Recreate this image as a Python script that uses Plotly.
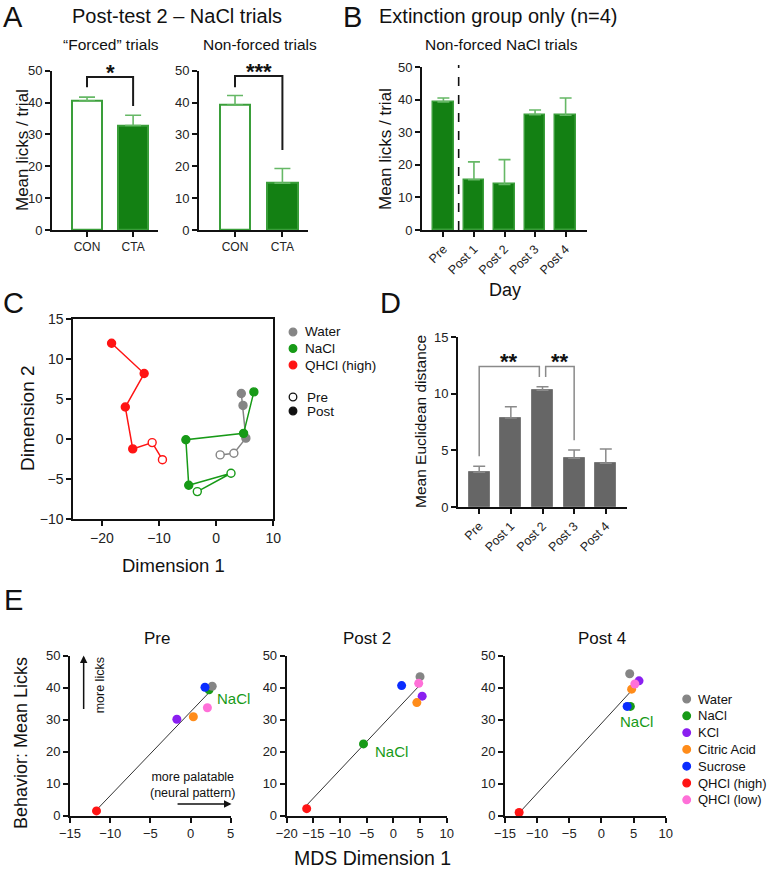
import numpy as np
import plotly.graph_objects as go

W, H = 767, 879
FONT = "Liberation Sans, Arial, sans-serif"


def px(x):
    return x / W


def py(y):
    return 1 - y / H


# ---------------- data ----------------
a_groups = ["CON", "CTA"]
a_forced_mean = [40.5, 32.8]
a_forced_sem = [1.2, 3.2]
a_nonforced_mean = [39.2, 14.7]
a_nonforced_sem = [3.0, 4.6]
a_forced_sig = ["*", 48.0, 44.8, 38.9]        # label, bracket top, left leg end, right leg end
a_nonforced_sig = ["***", 48.3, 44.8, 25.1]

b_days = ["Pre", "Post 1", "Post 2", "Post 3", "Post 4"]
b_mean = [39.3, 15.4, 14.0, 35.4, 35.2]
b_sem = [1.2, 5.5, 7.6, 1.4, 5.3]

c_water_x = [0.7, 3.1, 5.2, 4.7, 4.4]
c_water_y = [-2.0, -1.8, 0.1, 4.2, 5.7]
c_water_pre = [True, True, False, False, False]
c_nacl_x = [-3.3, 2.6, -4.8, -5.3, 4.8, 6.6]
c_nacl_y = [-6.6, -4.3, -5.8, -0.1, 0.7, 5.9]
c_nacl_pre = [True, True, False, False, False, False]
c_qhcl_x = [-9.4, -11.2, -14.6, -15.9, -12.6, -18.3]
c_qhcl_y = [-2.6, -0.46, -1.25, 4.0, 8.2, 12.0]
c_qhcl_pre = [True, True, False, False, False, False]

d_days = ["Pre", "Post 1", "Post 2", "Post 3", "Post 4"]
d_mean = [3.06, 7.85, 10.3, 4.3, 3.85]
d_sem = [0.53, 1.0, 0.3, 0.73, 1.27]
d_sig = [  # label, x0, x1, top, left leg end, right leg end
    ["**", 0.0, 1.9, 12.4, 4.47, 11.47],
    ["**", 2.1, 3.0, 12.4, 11.47, 5.88],
]

e_tastes = ["Water", "NaCl", "KCl", "Citric Acid", "Sucrose", "QHCl (high)", "QHCl (low)"]
e_pre_x = [2.7, 2.3, -1.7, 0.35, 1.8, -11.7, 2.1]
e_pre_y = [40.4, 39.3, 30.1, 30.9, 40.1, 1.5, 33.7]
e_post2_x = [5.0, -5.6, 5.4, 4.4, 1.55, -16.25, 4.75]
e_post2_y = [43.4, 22.4, 37.3, 35.3, 40.6, 2.2, 41.3]
e_post4_x = [4.4, 4.5, 5.85, 4.7, 4.0, -12.8, 5.2]
e_post4_y = [44.3, 34.1, 42.1, 39.5, 34.1, 1.0, 41.1]

# ---------------- styles ----------------
GREEN_BAR = "#138013"
GREEN_EDGE = "#3a9e3a"
GREEN_ERR = "#66b866"
GRAY = "#858585"
GREEN = "#179a17"
RED = "#ff1414"
e_colors = [GRAY, GREEN, "#8a1ff0", "#ff8c1a", "#0a2cff", RED, "#ff70d8"]
draw_order = [1, 0, 2, 3, 4, 5, 6]

fig = go.Figure()
annotations = []
shapes = []


def axis_style(**kw):
    d = dict(showline=True, linecolor="#111", linewidth=2, ticks="outside", ticklen=5,
             tickwidth=2, tickcolor="#111", showgrid=False, zeroline=False,
             tickfont=dict(size=13, color="#222", family=FONT), fixedrange=True)
    d.update(kw)
    return d


def ann(text, x, y, size, color="#111", **kw):
    d = dict(text=text, x=px(x), y=py(y), xref="paper", yref="paper", showarrow=False,
             font=dict(size=size, color=color, family=FONT), xanchor="center", yanchor="middle")
    d.update(kw)
    return d


layout_axes = {}

# ---------- Panel A ----------
A_YMAX = 50
for k, (means, sems, sig, dom) in enumerate([
    (a_forced_mean, a_forced_sem, a_forced_sig, (52, 158, 70.7, 230)),
    (a_nonforced_mean, a_nonforced_sem, a_nonforced_sig, (199, 308, 70.7, 230)),
]):
    n = k + 1
    xa, ya = ("x", "y") if n == 1 else (f"x{n}", f"y{n}")
    xs = list(range(len(a_groups)))
    fig.add_trace(go.Bar(
        x=xs, y=means, width=0.65, xaxis=xa, yaxis=ya,
        marker=dict(color=["white", GREEN_BAR], line=dict(color=GREEN_EDGE, width=2)),
        error_y=dict(type="data", array=sems, arrayminus=[0] * len(sems), symmetric=False,
                     color=GREEN_ERR, thickness=1.6, width=8),
        showlegend=False))
    fig.add_trace(go.Scatter(
        x=[0, 0, 1, 1], y=[sig[2], sig[1], sig[1], sig[3]], mode="lines", xaxis=xa, yaxis=ya,
        line=dict(color="#1a1a1a", width=2), showlegend=False))
    annotations.append(dict(x=0.5, y=(sig[1] + 3.3) / A_YMAX, xref=xa, yref=f"{ya} domain",
                            text=f"<b>{sig[0]}</b>", showarrow=False, yshift=-6,
                            xanchor="center", yanchor="middle",
                            font=dict(size=22, color="#111", family=FONT)))
    x0, x1, y0, y1 = dom
    key = "" if n == 1 else str(n)
    layout_axes["xaxis" + key] = axis_style(domain=[px(x0), px(x1)], anchor=ya,
                                            range=[-0.76, 1.54], tickvals=xs, ticktext=a_groups,
                                            tickfont=dict(size=12, color="#222", family=FONT))
    layout_axes["yaxis" + key] = axis_style(domain=[py(y1), py(y0)], anchor=xa, range=[0, A_YMAX],
                                            tickvals=[0, 10, 20, 30, 40, 50])

# ---------- Panel B ----------
bx = list(range(len(b_days)))
fig.add_trace(go.Bar(
    x=bx, y=b_mean, width=0.67, xaxis="x3", yaxis="y3",
    marker=dict(color=GREEN_BAR, line=dict(color=GREEN_EDGE, width=1.5)),
    error_y=dict(type="data", array=b_sem, arrayminus=[0] * len(b_sem), symmetric=False,
                 color=GREEN_ERR, thickness=1.6, width=6),
    showlegend=False))
layout_axes["xaxis3"] = axis_style(domain=[px(422), px(587)], anchor="y3", range=[-0.7, 4.7],
                                   tickvals=bx, ticktext=b_days, tickangle=-45,
                                   tickfont=dict(size=12.5, color="#222", family=FONT))
layout_axes["yaxis3"] = axis_style(domain=[py(230), py(67)], anchor="x3", range=[0, 50],
                                   tickvals=[0, 10, 20, 30, 40, 50])
shapes.append(dict(type="line", xref="x3", yref="y3 domain", x0=0.5, x1=0.5, y0=0, y1=1.012,
                   line=dict(color="#111", width=1.6, dash="dash")))

# ---------- Panel C ----------
for xs_, ys_, pre_, col in [(c_water_x, c_water_y, c_water_pre, GRAY),
                            (c_nacl_x, c_nacl_y, c_nacl_pre, GREEN),
                            (c_qhcl_x, c_qhcl_y, c_qhcl_pre, RED)]:
    fig.add_trace(go.Scatter(
        x=xs_, y=ys_, mode="lines+markers", xaxis="x4", yaxis="y4",
        line=dict(color=col, width=1.5),
        marker=dict(size=8, color=["white" if p else col for p in pre_],
                    line=dict(color=col, width=1.4)),
        showlegend=False, cliponaxis=False))
layout_axes["xaxis4"] = axis_style(domain=[px(73.3), px(273.3)], anchor="y4", range=[-25, 10],
                                   tickvals=[-20, -10, 0, 10], mirror=True,
                                   tickfont=dict(size=14, color="#222", family=FONT))
layout_axes["yaxis4"] = axis_style(domain=[py(518.7), py(319.3)], anchor="x4", range=[-10, 15],
                                   tickvals=[-10, -5, 0, 5, 10, 15], mirror=True,
                                   tickfont=dict(size=14, color="#222", family=FONT))

# ---------- Panel D ----------
dx = list(range(len(d_days)))
fig.add_trace(go.Bar(
    x=dx, y=d_mean, width=0.66, xaxis="x5", yaxis="y5",
    marker=dict(color="#666666", line=dict(color="#7a7a7a", width=1)),
    error_y=dict(type="data", array=d_sem, arrayminus=[0] * len(d_sem), symmetric=False,
                 color="#8a8a8a", thickness=1.5, width=6),
    showlegend=False))
for lab, x0, x1, top, l0, l1 in d_sig:
    fig.add_trace(go.Scatter(x=[x0, x0, x1, x1], y=[l0, top, top, l1], mode="lines",
                             xaxis="x5", yaxis="y5", line=dict(color="#8a8a8a", width=1.5),
                             showlegend=False))
    annotations.append(dict(x=(x0 + x1) / 2, y=top + 1.0, xref="x5", yref="y5", text=f"<b>{lab}</b>",
                            showarrow=False, yshift=-6,
                            font=dict(size=22, color="#111", family=FONT)))
layout_axes["xaxis5"] = axis_style(domain=[px(458), px(627)], anchor="y5", range=[-0.67, 4.67],
                                   tickvals=dx, ticktext=d_days, tickangle=-45,
                                   tickfont=dict(size=12.5, color="#222", family=FONT))
layout_axes["yaxis5"] = axis_style(domain=[py(507), py(337)], anchor="x5", range=[0, 15],
                                   tickvals=[0, 5, 10, 15])

# ---------- Panel E ----------
e_sets = [
    (e_pre_x, e_pre_y, 6, (70, 230.7), [-15, 5], list(range(-15, 6, 5))),
    (e_post2_x, e_post2_y, 7, (286.7, 446.7), [-20, 10], list(range(-20, 11, 5))),
    (e_post4_x, e_post4_y, 8, (505, 665.7), [-15, 10], list(range(-15, 11, 5))),
]
for xs_, ys_, n, (x0, x1), xr, tv in e_sets:
    xa, ya = f"x{n}", f"y{n}"
    slope, icpt = np.polyfit(xs_, ys_, 1)
    lx = np.array([min(xs_), max(xs_)])
    fig.add_trace(go.Scatter(x=lx, y=slope * lx + icpt, mode="lines", xaxis=xa, yaxis=ya,
                             line=dict(color="#333", width=1), showlegend=False))
    for i in draw_order:
        fig.add_trace(go.Scatter(x=[xs_[i]], y=[ys_[i]], mode="markers", xaxis=xa, yaxis=ya,
                                 marker=dict(size=9, color=e_colors[i]), showlegend=False,
                                 cliponaxis=False))
    layout_axes[f"xaxis{n}"] = axis_style(domain=[px(x0), px(x1)], anchor=ya, range=xr, tickvals=tv)
    layout_axes[f"yaxis{n}"] = axis_style(domain=[py(815.7), py(655.5)], anchor=xa, range=[0, 50],
                                          tickvals=[0, 10, 20, 30, 40, 50])

# in-plot texts for E
annotations += [
    dict(x=3.0, y=36.7, xref="x6", yref="y6", text="NaCl", showarrow=False, xanchor="left",
         font=dict(size=15, color=GREEN, family=FONT)),
    dict(x=-3.8, y=20.0, xref="x7", yref="y7", text="NaCl", showarrow=False, xanchor="left",
         font=dict(size=15, color=GREEN, family=FONT)),
    dict(x=5.4, y=29.4, xref="x8", yref="y8", text="NaCl", showarrow=False,
         font=dict(size=15, color=GREEN, family=FONT)),
    dict(x=-13.3, y=50, ax=-13.3, ay=32.8, xref="x6", yref="y6", axref="x6", ayref="y6",
         text="", showarrow=True, arrowhead=2, arrowsize=1, arrowwidth=1.5, arrowcolor="#111"),
    dict(x=5.1, y=3.65, ax=-1.8, ay=3.65, xref="x6", yref="y6", axref="x6", ayref="y6",
         text="", showarrow=True, arrowhead=2, arrowsize=1, arrowwidth=1.5, arrowcolor="#111"),
    dict(x=-11.3, y=40.6, xref="x6", yref="y6", text="more licks", showarrow=False,
         textangle=-90, font=dict(size=12.5, color="#111", family=FONT)),
    dict(x=0.2, y=9.7, xref="x6", yref="y6", text="more palatable<br>(neural pattern)",
         showarrow=False, font=dict(size=12.5, color="#111", family=FONT)),
]

# ---------------- text labels ----------------
annotations += [
    ann("A", 13, 17, 29), ann("B", 352, 17, 29), ann("C", 13, 303, 29),
    ann("D", 391, 303, 29), ann("E", 13, 600, 29),
    ann("Post-test 2 – NaCl trials", 177, 16, 20),
    ann("“Forced” trials", 111, 45, 15.5),
    ann("Non-forced trials", 260, 45, 15.5),
    ann("Extinction group only (n=4)", 498, 16, 20),
    ann("Non-forced NaCl trials", 501, 45, 15.5),
    ann("Mean licks / trial", 22, 150, 17, textangle=-90),
    ann("Mean licks / trial", 386, 149, 17, textangle=-90),
    ann("Day", 505, 290, 18),
    ann("Dimension 2", 27, 418, 19, textangle=-90),
    ann("Dimension 1", 173, 565, 18.5),
    ann("Mean Euclidean distance", 420, 422, 15.5, textangle=-90),
    ann("Pre", 157, 638, 17), ann("Post 2", 367, 638, 17), ann("Post 4", 602, 638, 17),
    ann("Behavior: Mean Licks", 21, 743, 18, textangle=-90),
    ann("MDS Dimension 1", 372, 858, 19.5),
]

# ---------------- manual legends ----------------
def dot(cx, cy, r, fill, line):
    return dict(type="circle", xref="paper", yref="paper", x0=px(cx - r), x1=px(cx + r),
                y0=py(cy + r), y1=py(cy - r), fillcolor=fill, line=dict(color=line, width=1.3))


c_leg = [("Water", GRAY), ("NaCl", GREEN), ("QHCl (high)", RED)]
c_leg_y = [332, 348.5, 365]
for (lab, col), yy in zip(c_leg, c_leg_y):
    shapes.append(dot(293, yy, 3.8, col, col))
    annotations.append(ann(lab, 302.5, yy, 13.5, xanchor="left"))
for lab, fill, yy in [("Pre", "white", 397), ("Post", "#111", 411)]:
    shapes.append(dot(293, yy, 3.8, fill, "#111"))
    annotations.append(ann(lab, 304.5, yy, 13.5, xanchor="left"))

for i, (lab, col) in enumerate(zip(e_tastes, e_colors)):
    yy = 699 + i * 16.8
    shapes.append(dot(686.7, yy, 3.8, col, col))
    annotations.append(ann(lab, 695.5, yy, 13, xanchor="left"))

fig.update_layout(
    width=W, height=H, autosize=False,
    margin=dict(l=0, r=0, t=0, b=0, pad=0, autoexpand=False),
    paper_bgcolor="white", plot_bgcolor="white",
    font=dict(family=FONT, color="#111"),
    showlegend=False, bargap=0, shapes=shapes, annotations=annotations,
    **layout_axes,
)

fig.write_html("out.html")
